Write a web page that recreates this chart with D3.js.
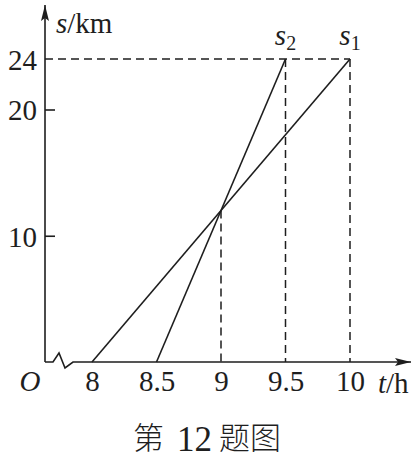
<!DOCTYPE html>
<html><head><meta charset="utf-8">
<script src="https://cdn.jsdelivr.net/npm/d3@7"></script>
<style>
html,body{margin:0;padding:0;background:#fff;}
svg{display:block;}
</style></head>
<body>
<svg id="c" width="416" height="459"></svg>
<script>
// data
const tTicks = [8, 8.5, 9, 9.5, 10];
const tTickLabels = ["8", "8.5", "9", "9.5", "10"];
const sTicks = [10, 20, 24];
const sTickLabels = ["10", "20", "24"];
const s1T = [8, 10];
const s1S = [0, 24];
const s2T = [8.5, 9.5];
const s2S = [0, 24];
const meetPoint = [9, 12];

const svg = d3.select("#c");
const ink = "#1e1e1e";
const serif = "'Liberation Serif','DejaVu Serif',serif";
const cjk = "'Noto Sans CJK SC',sans-serif";

const x = d3.scaleLinear().domain([8, 10]).range([92, 350]);
const y = d3.scaleLinear().domain([0, 24]).range([362, 59]);
const x0 = 45;     // y-axis position (origin, broken axis)
const y0 = y(0);

// axes lines with arrows
svg.append("defs").append("marker")
  .attr("id", "arr").attr("viewBox", "0 0 16 10").attr("refX", 16).attr("refY", 5)
  .attr("markerWidth", 16).attr("markerHeight", 10).attr("markerUnits", "userSpaceOnUse")
  .attr("orient", "auto")
  .append("path").attr("d", "M0,1 L16,5 L0,9 L3,5 Z").attr("fill", ink);

svg.append("line").attr("x1", x0).attr("y1", y0).attr("x2", x0).attr("y2", 5)
  .attr("stroke", ink).attr("stroke-width", 1.6).attr("marker-end", "url(#arr)");

// x axis with break zigzag
svg.append("path")
  .attr("d", `M${x0},${y0} L53,${y0} L59,${y0-9} L65,${y0+6} L73,${y0} L411,${y0}`)
  .attr("fill", "none").attr("stroke", ink).attr("stroke-width", 1.6)
  .attr("stroke-linejoin", "miter").attr("marker-end", "url(#arr)");

// y axis ticks and labels via d3 axis
const yAxis = d3.axisLeft(y).tickValues(sTicks).tickFormat((d, i) => sTickLabels[i])
  .tickSizeInner(-10).tickSizeOuter(0).tickPadding(18);
const gy = svg.append("g").attr("transform", `translate(${x0},0)`).call(yAxis);
gy.select(".domain").remove();
gy.selectAll(".tick line").attr("stroke", ink).attr("stroke-width", 1.6)
  .filter(d => d === 24).remove();
gy.selectAll(".tick text").attr("x", -8).attr("dy", "0.36em")
  .attr("font-family", serif).attr("font-size", 29).attr("fill", ink);

// x axis labels via d3 axis
const xAxis = d3.axisBottom(x).tickValues(tTicks).tickFormat((d, i) => tTickLabels[i])
  .tickSize(0).tickPadding(0);
const gx = svg.append("g").attr("transform", `translate(0,${y0})`).call(xAxis);
gx.select(".domain").remove();
gx.selectAll(".tick text").attr("y", 29).attr("dy", 0)
  .attr("font-family", serif).attr("font-size", 29).attr("fill", ink);

// dashed guides
const dash = "8,5";
svg.append("line").attr("x1", x0).attr("x2", x(10)).attr("y1", y(24)).attr("y2", y(24))
  .attr("stroke", ink).attr("stroke-width", 1.5).attr("stroke-dasharray", dash);
[[9.5, 24], [10, 24], meetPoint].forEach(p => {
  svg.append("line").attr("x1", x(p[0])).attr("x2", x(p[0])).attr("y1", y(p[1])).attr("y2", y0)
    .attr("stroke", ink).attr("stroke-width", 1.5).attr("stroke-dasharray", dash);
});

// series lines
const line = d3.line().x(d => x(d[0])).y(d => y(d[1]));
svg.append("path").datum(s1T.map((t, i) => [t, s1S[i]])).attr("d", line)
  .attr("fill", "none").attr("stroke", ink).attr("stroke-width", 1.6);
svg.append("path").datum(s2T.map((t, i) => [t, s2S[i]])).attr("d", line)
  .attr("fill", "none").attr("stroke", ink).attr("stroke-width", 1.6);

// series labels
function sLabel(sub, cx) {
  const t = svg.append("text").attr("x", cx).attr("y", 45)
    .attr("font-family", serif).attr("font-size", 29).attr("fill", ink).attr("text-anchor", "middle");
  t.append("tspan").attr("font-style", "italic").text("s");
  t.append("tspan").attr("font-size", 20).attr("dy", 5).text(sub);
}
sLabel("2", x(9.5));
sLabel("1", x(10));

// axis titles
const yt = svg.append("text").attr("x", 56).attr("y", 33)
  .attr("font-family", serif).attr("font-size", 29).attr("fill", ink);
yt.append("tspan").attr("font-style", "italic").text("s");
yt.append("tspan").text("/km");

const xt = svg.append("text").attr("x", 378).attr("y", 393)
  .attr("font-family", serif).attr("font-size", 29).attr("fill", ink);
xt.append("tspan").attr("font-style", "italic").text("t");
xt.append("tspan").text("/h");

svg.append("text").attr("x", 30).attr("y", y0 + 29).attr("text-anchor", "middle")
  .attr("font-family", serif).attr("font-style", "italic").attr("font-size", 29).attr("fill", ink).text("O");

// caption
const cap = svg.append("text").attr("y", 449).attr("fill", ink);
cap.append("tspan").attr("x", 133).attr("font-family", cjk).attr("font-size", 31).attr("font-weight", 300).text("第");
cap.append("tspan").attr("x", 177).attr("y", 451).attr("font-family", serif).attr("font-size", 35).text("12");
cap.append("tspan").attr("x", 219).attr("y", 449).attr("font-family", cjk).attr("font-size", 31).attr("font-weight", 300).text("题图");
</script>
</body></html>
